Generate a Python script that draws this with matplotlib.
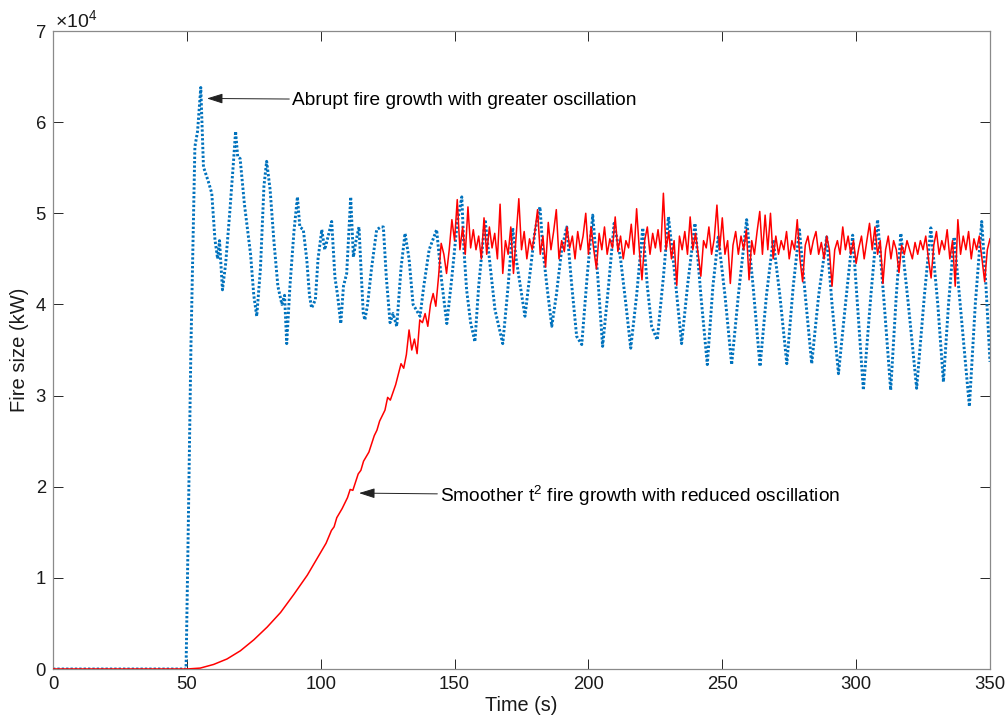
import numpy as np
import matplotlib
matplotlib.use("Agg")
import matplotlib.pyplot as plt

# ---------------- data (fire size in units of 1e4 kW) ----------------
blue_t = [0, 49.7, 50.5, 51.5, 52.5, 53, 54, 55.2, 56.2, 58, 59.3, 60.5, 61.5, 62.2, 63.3,
          64.5, 66, 67.5, 68.2, 69, 69.9, 71.5, 73, 73.8, 75, 76.1, 77.5, 78.8, 79.8, 81.1,
          82.5, 84, 85.5, 86.5, 87.3, 88.5, 90, 91.3, 92.2, 93.5, 94.8, 95.8, 96.6, 98, 99,
          100.4, 101.5, 102.8, 104.1, 105.3, 106.3, 107.5, 108.5, 109.7, 110.5, 111.2, 112.2,
          113.2, 114.3, 115.2, 115.9, 116.5, 117.5, 119, 120.9, 122.5, 123.4, 124.5, 125.9,
          127, 128.4, 130, 131.5, 133, 134.5, 137.1, 138.5, 140.5, 143.3, 145, 147.1, 149,
          151, 152.7, 153.5, 154.5, 156, 157.6, 159, 161.4, 163, 165.1, 168, 170, 171.7, 173,
          176.3, 178, 180, 181.9, 183, 184.5, 186.3, 188, 190, 191.9, 193.7, 195.6, 197.5,
          199.5, 201.6, 203.5, 205.3, 207.5, 209.6, 212, 214, 215.8, 218, 220.3, 222, 223.6,
          225.7, 228, 229.9, 232, 234.8, 237, 239.8, 242, 244.4, 246.5, 248.5, 251, 253.5,
          256, 259.1, 261.5, 264.1, 266.5, 269, 271.5, 274.1, 276.5, 278.8, 281, 283.4, 286,
          289, 291, 293.4, 296, 298.7, 300.5, 302.7, 305.5, 308, 310.5, 312.9, 315, 316.7,
          319.5, 322.6, 325.5, 327.9, 330.5, 332.6, 334.5, 336.6, 339.5, 342.3, 344.5, 346.9,
          348.5, 350]
blue_v = [0, 0, 1.5, 3.5, 5.0, 5.73, 5.9, 6.38, 5.51, 5.35, 5.22, 4.71, 4.5, 4.7, 4.16,
          4.45, 5.0, 5.6, 5.9, 5.62, 5.6, 5.1, 4.74, 4.55, 4.1, 3.87, 4.4, 5.3, 5.57, 5.26,
          4.7, 4.2, 4.0, 4.1, 3.57, 4.2, 4.8, 5.18, 4.85, 4.82, 4.49, 4.1, 3.96, 4.05, 4.5,
          4.82, 4.6, 4.75, 4.91, 4.3, 4.1, 3.79, 4.2, 4.34, 4.8, 5.18, 4.52,
          4.7, 4.85, 4.3, 3.9, 3.83, 4.0, 4.4, 4.82, 4.85, 4.85, 4.3, 3.8,
          3.9, 3.76, 4.4, 4.78, 4.5, 4.0, 3.87, 4.2, 4.6, 4.82, 4.3, 3.79, 4.3,
          4.9, 5.18, 4.6, 4.16, 3.8, 3.59, 4.2, 4.93, 4.5, 3.94, 3.57, 4.2, 4.84, 4.5,
          3.87, 4.3, 4.8, 5.07, 4.6, 4.2, 3.76, 4.1, 4.6, 4.85, 4.23, 3.65, 3.56,
          4.3, 4.98, 4.3, 3.54, 4.2, 4.89, 4.5, 4.0, 3.52, 4.1, 4.84, 4.2, 3.76,
          3.61, 4.3, 4.96, 4.4, 3.57, 4.2, 4.89, 4.1, 3.34, 4.2, 4.74, 4.1, 3.34,
          4.1, 4.93, 4.2, 3.32, 4.1, 4.71, 4.1, 3.35, 4.2, 4.82, 4.1, 3.35, 4.1,
          4.74, 4.0, 3.24, 4.0, 4.76, 4.0, 3.06, 4.1, 4.93, 4.0, 3.06, 4.1, 4.78,
          4.0, 3.08, 4.1, 4.84, 4.0, 3.15, 4.0, 4.74, 3.8, 2.88, 4.0, 4.91,
          4.2, 3.37]

red_growth_t = [0, 50, 55, 60, 65, 70, 75, 80, 85, 90, 95, 100, 102, 104, 105, 106, 108,
                110, 111, 112, 114, 115, 116, 118, 120, 121, 122, 124, 125, 126, 128, 130,
                131, 132, 133, 134, 135, 136, 137, 138, 139, 140, 141, 142, 143, 144, 145]
red_growth_v = [0, 0, 0.01, 0.05, 0.11, 0.2, 0.32, 0.46, 0.62, 0.82, 1.03, 1.28, 1.38, 1.52,
                1.56, 1.66, 1.76, 1.88, 1.97, 1.96, 2.14, 2.18, 2.28, 2.38, 2.56, 2.62, 2.72,
                2.84, 2.98, 2.95, 3.12, 3.35, 3.3, 3.45, 3.72, 3.5, 3.62, 3.46, 3.83, 3.8,
                3.9, 3.76, 4.0, 4.12, 3.98, 4.3, 4.67]

red_plateau_start = 146
red_plateau_v = [
    4.55, 4.34, 4.6, 4.93, 4.7, 5.15, 4.6, 4.85, 4.55, 5.07,
    4.62, 4.82, 4.6, 4.75, 4.5, 4.95, 4.55, 4.85, 4.62, 4.78,
    4.5, 5.1, 4.34, 4.7, 4.55, 4.85, 4.34, 4.75, 5.16, 4.6,
    4.8, 4.5, 4.72, 4.6, 4.8, 5.04, 4.55, 4.75, 4.41, 4.9,
    4.6, 4.8, 5.04, 4.5, 4.7, 4.58, 4.85, 4.62, 4.75, 4.5,
    4.8, 4.6, 4.75, 5.0, 4.55, 4.85, 4.6, 4.39, 4.78, 4.6,
    4.85, 4.55, 4.72, 4.62, 4.96, 4.58, 4.75, 4.5, 4.7, 4.62,
    4.88, 4.55, 5.05, 4.6, 4.27, 4.7, 4.85, 4.55, 4.78, 4.62,
    4.82, 4.58, 5.22, 4.6, 4.8, 4.5, 4.7, 4.21, 4.75, 4.6,
    4.8, 4.55, 4.96, 4.6, 4.78, 4.55, 4.31, 4.7, 4.62, 4.85,
    4.55, 4.72, 5.09, 4.6, 4.95, 4.55, 4.7, 4.23, 4.65, 4.8,
    4.55, 4.75, 4.6, 4.82, 4.27, 4.7, 4.55, 4.8, 5.02, 4.55,
    4.98, 4.6, 5.0, 4.5, 4.75, 4.55, 4.7, 4.6, 4.8, 4.5,
    4.7, 4.6, 4.93, 4.5, 4.25, 4.65, 4.75, 4.55, 4.7, 4.8,
    4.55, 4.68, 4.5, 4.75, 4.6, 4.2, 4.6, 4.7, 4.55, 4.85,
    4.6, 4.75, 4.55, 4.7, 4.45, 4.62, 4.75, 4.5, 4.7, 4.89,
    4.6, 4.85, 4.55, 4.7, 4.23, 4.6, 4.75, 4.5, 4.7, 4.6,
    4.35, 4.65, 4.55, 4.7, 4.6, 4.5, 4.68, 4.55, 4.7, 4.6,
    4.75, 4.5, 4.29, 4.65, 4.8, 4.55, 4.7, 4.6, 4.82, 4.5,
    4.7, 4.2, 4.93, 4.55, 4.75, 4.6, 4.8, 4.5, 4.72, 4.6,
    4.75, 4.5, 4.25, 4.6, 4.72]

x_ticks = [0, 50, 100, 150, 200, 250, 300, 350]
y_ticks = [0, 1, 2, 3, 4, 5, 6, 7]

label_abrupt = "Abrupt fire growth with greater oscillation"
label_smooth = "Smoother t$^{2}$ fire growth with reduced oscillation"

# ---------------- figure ----------------
plt.rcParams['font.family'] = ['Liberation Sans', 'DejaVu Sans']
plt.rcParams['mathtext.fontset'] = 'custom'
plt.rcParams['mathtext.rm'] = 'Liberation Sans'
plt.rcParams['mathtext.it'] = 'Liberation Sans'

fig = plt.figure(figsize=(10.08, 7.24), dpi=100)
ax = fig.add_axes([53 / 1008, 1 - 669 / 724, (990 - 53) / 1008, (669 - 31) / 724])

red_t = list(red_growth_t) + list(np.arange(red_plateau_start, red_plateau_start + len(red_plateau_v)))
red_v = list(red_growth_v) + list(red_plateau_v)

ax.plot(blue_t, blue_v, color='#0072BD', lw=2.1, linestyle=(0, (0.8, 0.7)),
        dash_capstyle='butt', zorder=2)
ax.plot(red_t, red_v, color='#FF0000', lw=1.1, zorder=3)

ax.set_xlim(0, 350)
ax.set_ylim(0, 7)
ax.set_xticks(x_ticks)
ax.set_yticks(y_ticks)
ax.set_xticklabels([str(v) for v in x_ticks])
ax.set_yticklabels([str(v) for v in y_ticks])

ax.tick_params(direction='in', length=7, width=0.7, color='#262626',
               top=True, right=True, labelsize=13.3, pad=5, labelcolor='#1a1a1a')
for s in ax.spines.values():
    s.set_color('#8a8a8a')
    s.set_linewidth(0.9)

ax.set_xlabel("Time (s)", fontsize=14.3, color='#1a1a1a', labelpad=2)
ax.set_ylabel("Fire size (kW)", fontsize=14.5, color='#1a1a1a', labelpad=5)

ax.text(0.002, 1.0063, r"$\times$10$^{4}$", transform=ax.transAxes, fontsize=14,
        ha='left', va='baseline', color='#1a1a1a')

arrow_kw = dict(arrowstyle='-|>,head_length=0.7,head_width=0.22', color='#222222',
                lw=0.7, shrinkA=0, shrinkB=0)
ax.annotate(label_abrupt, xy=(57.5, 6.26), xytext=(89.3, 6.24), fontsize=13.8,
            va='center', ha='left', arrowprops=arrow_kw, color='black')
ax.annotate(label_smooth, xy=(114.3, 1.93), xytext=(144.6, 1.9), fontsize=13.8,
            va='center', ha='left', arrowprops=arrow_kw, color='black')

fig.savefig("out.png", dpi=100)
